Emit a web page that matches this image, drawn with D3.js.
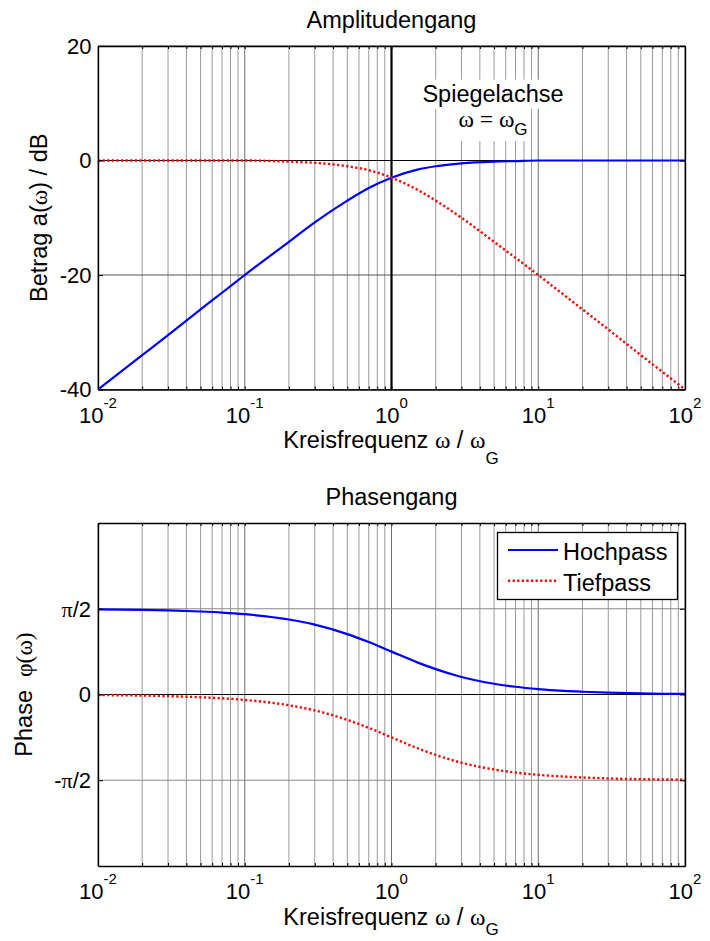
<!DOCTYPE html>
<html>
<head>
<meta charset="utf-8">
<script src="https://cdn.jsdelivr.net/npm/d3@7"></script>
<style>
  body { margin: 0; background: #fff; }
  svg { display: block; }
  text { font-family: "Liberation Sans", Arial, sans-serif; fill: #000; }
  .sym { font-family: "Liberation Serif", "Times New Roman", serif; }
</style>
</head>
<body>
<svg id="fig" width="710" height="941"></svg>
<script>
// Normalised frequency ω/ωG and the first-order high-pass / low-pass responses
const omega     = [0.01, 0.02, 0.03, 0.05, 0.07, 0.1, 0.2, 0.3, 0.5, 0.7, 1, 1.5, 2, 3, 5, 7, 10, 15, 20, 30, 50, 70, 100];
const ampHoch   = [-40.0, -34.0, -30.5, -26.0, -23.1, -20.0, -14.2, -10.8, -7.0, -4.8, -3.0, -1.6, -1.0, -0.5, -0.2, -0.1, 0, 0, 0, 0, 0, 0, 0];
const ampTief   = [0, 0, 0, 0, 0, 0, -0.2, -0.4, -1.0, -1.7, -3.0, -5.1, -7.0, -10.0, -14.2, -17.0, -20.0, -23.5, -26.0, -29.5, -34.0, -36.9, -40.0];
// phase in degrees
const phaseHoch = [89.4, 88.9, 88.3, 87.1, 86.0, 84.3, 78.7, 73.3, 63.4, 55.0, 45.0, 33.7, 26.6, 18.4, 11.3, 8.1, 5.7, 3.8, 2.9, 1.9, 1.1, 0.8, 0.6];
const phaseTief = [-0.6, -1.1, -1.7, -2.9, -4.0, -5.7, -11.3, -16.7, -26.6, -35.0, -45.0, -56.3, -63.4, -71.6, -78.7, -81.9, -84.3, -86.2, -87.1, -88.1, -88.9, -89.2, -89.4];

const decadeTicks   = [0.01, 0.1, 1, 10, 100];
const decadeExp     = ["-2", "-1", "0", "1", "2"];
const ampTicks      = [20, 0, -20, -40];
const phaseTicks    = [90, 0, -90];
const phaseTickText = [["", "π", "/2"], ["0", "", ""], ["-", "π", "/2"]];
const seriesNames   = ["Hochpass", "Tiefpass"];

const svg = d3.select("#fig");
const X0 = 98, X1 = 685;
const x = d3.scaleLog().domain([0.01, 100]).range([X0, X1]);
const yAmp = d3.scaleLinear().domain([-40, 20]).range([389.5, 46]);
const yPh  = d3.scaleLinear().domain([-180, 180]).range([866, 523]);

const BLUE = "#0000ff", RED = "#ff0000";
const TICKF = 22, LABF = 23.5;
const DOTS = "2.2,2.4";

function panel(cfg) {
  const y = cfg.y;
  const [yb, yt] = y.range();
  const g = svg.append("g");

  // vertical log grid
  g.append("g").selectAll("line").data(x.ticks()).join("line")
    .attr("x1", d => x(d)).attr("x2", d => x(d))
    .attr("y1", yt).attr("y2", yb)
    .attr("stroke", d => decadeTicks.includes(d) ? "#6e6e6e" : "#9a9a9a")
    .attr("stroke-width", 1);

  // horizontal grid
  g.append("g").selectAll("line").data(cfg.yTicks).join("line")
    .attr("x1", X0).attr("x2", X1)
    .attr("y1", d => y(d)).attr("y2", d => y(d))
    .attr("stroke", d => d === 0 ? "#000" : cfg.hGrid)
    .attr("stroke-width", 1);

  if (cfg.extra) cfg.extra(g);

  // curves
  const line = vals => d3.line()
    .x((d, i) => x(omega[i]))
    .y(d => y(d))
    .curve(d3.curveMonotoneX)(vals);
  g.append("path").attr("d", line(cfg.hoch))
    .attr("fill", "none").attr("stroke", BLUE).attr("stroke-width", 2.2);
  g.append("path").attr("d", line(cfg.tief))
    .attr("fill", "none").attr("stroke", RED).attr("stroke-width", 2.4)
    .attr("stroke-dasharray", DOTS);

  // box + inward ticks
  const tickX = x.ticks();
  const axB = d3.axisBottom(x).tickValues(tickX).tickSizeInner(-3).tickSizeOuter(0).tickFormat("");
  const axT = d3.axisTop(x).tickValues(tickX).tickSizeInner(-3).tickSizeOuter(0).tickFormat("");
  const axL = d3.axisLeft(y).tickValues(cfg.yTicks).tickSizeInner(-5).tickSizeOuter(0).tickFormat("");
  const axR = d3.axisRight(y).tickValues(cfg.yTicks).tickSizeInner(-5).tickSizeOuter(0).tickFormat("");
  [[axB, `translate(0,${yb})`], [axT, `translate(0,${yt})`],
   [axL, `translate(${X0},0)`], [axR, `translate(${X1},0)`]].forEach(([ax, tr]) => {
    const a = g.append("g").attr("transform", tr).call(ax);
    a.selectAll(".tick line").attr("stroke", "#000").attr("stroke-width", 1);
    a.select(".domain").attr("stroke", "#000").attr("stroke-width", 1.4);
  });

  // x tick labels 10^k
  const xl = g.append("g").selectAll("text").data(decadeTicks).join("text")
    .attr("x", d => x(d)).attr("y", yb + 33)
    .attr("text-anchor", "middle").attr("font-size", TICKF);
  xl.append("tspan").text("10");
  xl.append("tspan").attr("font-size", 15).attr("dy", -15).text((d, i) => decadeExp[i]);

  // title
  g.append("text").attr("x", 391.5).attr("y", yt - 18)
    .attr("text-anchor", "middle").attr("font-size", LABF).text(cfg.title);

  // x label
  const lab = g.append("text").attr("x", 391).attr("y", cfg.xlabY)
    .attr("text-anchor", "middle").attr("font-size", LABF);
  lab.append("tspan").text("Kreisfrequenz ");
  lab.append("tspan").attr("class", "sym").text("ω");
  lab.append("tspan").text(" / ");
  lab.append("tspan").attr("class", "sym").text("ω");
  lab.append("tspan").attr("font-size", 17).attr("dy", cfg.subDy).text("G");

  // y label
  const yl = g.append("text")
    .attr("transform", `translate(${cfg.ylabX},${(yt + yb) / 2}) rotate(-90)`)
    .attr("text-anchor", "middle").attr("font-size", LABF)
    .attr("xml:space", "preserve");
  cfg.ylab.forEach(([t, s]) => yl.append("tspan").attr("class", s ? "sym" : null).text(t));

  return g;
}

// ---------- Amplitudengang ----------
const gA = panel({
  y: yAmp, yTicks: ampTicks, hGrid: "#555", hoch: ampHoch, tief: ampTief,
  title: "Amplitudengang", xlabY: 447.5, subDy: 16, ylabX: 47,
  ylab: [["Betrag a(", 0], ["ω", 1], [") / dB", 0]],
  extra: g => {
    // mirror axis at ω = ωG
    g.append("line").attr("x1", x(1)).attr("x2", x(1))
      .attr("y1", yAmp.range()[1]).attr("y2", yAmp.range()[0])
      .attr("stroke", "#000").attr("stroke-width", 2.2);
    const t1 = g.append("text").attr("x", 493).attr("y", 101.7)
      .attr("text-anchor", "middle").attr("font-size", LABF).text("Spiegelachse");
    const t2 = g.append("text").attr("x", 493).attr("y", 126.7)
      .attr("text-anchor", "middle").attr("font-size", LABF);
    t2.append("tspan").attr("class", "sym").text("ω = ω");
    t2.append("tspan").attr("font-size", 17).attr("dy", 8.3).text("G");
    [t1, t2].forEach(t => {
      const b = t.node().getBBox();
      g.insert("rect", "text").attr("x", b.x - 2).attr("y", b.y - 1)
        .attr("width", b.width + 4).attr("height", b.height + 3).attr("fill", "#fff");
    });
  }
});
gA.append("g").selectAll("text").data(ampTicks).join("text")
  .attr("x", 91.5).attr("y", d => yAmp(d)).attr("dy", "0.36em")
  .attr("text-anchor", "end").attr("font-size", TICKF).text(d => d);

// ---------- Phasengang ----------
const gP = panel({
  y: yPh, yTicks: phaseTicks, hGrid: "#8a8a8a", hoch: phaseHoch, tief: phaseTief,
  title: "Phasengang", xlabY: 925, subDy: 10, ylabX: 31.5,
  ylab: [["Phase  ", 0], ["φ(ω)", 1]]
});
const pl = gP.append("g").selectAll("text").data(phaseTicks).join("text")
  .attr("x", 91).attr("y", d => yPh(d)).attr("dy", "0.36em")
  .attr("text-anchor", "end").attr("font-size", TICKF);
pl.append("tspan").text((d, i) => phaseTickText[i][0]);
pl.append("tspan").attr("class", "sym").text((d, i) => phaseTickText[i][1]);
pl.append("tspan").text((d, i) => phaseTickText[i][2]);

// legend
const lg = gP.append("g");
lg.append("rect").attr("x", 497.5).attr("y", 532.5).attr("width", 180).attr("height", 67)
  .attr("fill", "#fff").attr("stroke", "#000").attr("stroke-width", 1.3);
const legendStyle = [{ c: BLUE, w: 2.2, dash: null }, { c: RED, w: 2.4, dash: DOTS }];
seriesNames.forEach((name, i) => {
  const ly = 550 + i * 30.7;
  lg.append("line").attr("x1", 508).attr("x2", 558).attr("y1", ly).attr("y2", ly)
    .attr("stroke", legendStyle[i].c).attr("stroke-width", legendStyle[i].w)
    .attr("stroke-dasharray", legendStyle[i].dash);
  lg.append("text").attr("x", 563).attr("y", ly + 10)
    .attr("font-size", LABF).text(name);
});
</script>
</body>
</html>
